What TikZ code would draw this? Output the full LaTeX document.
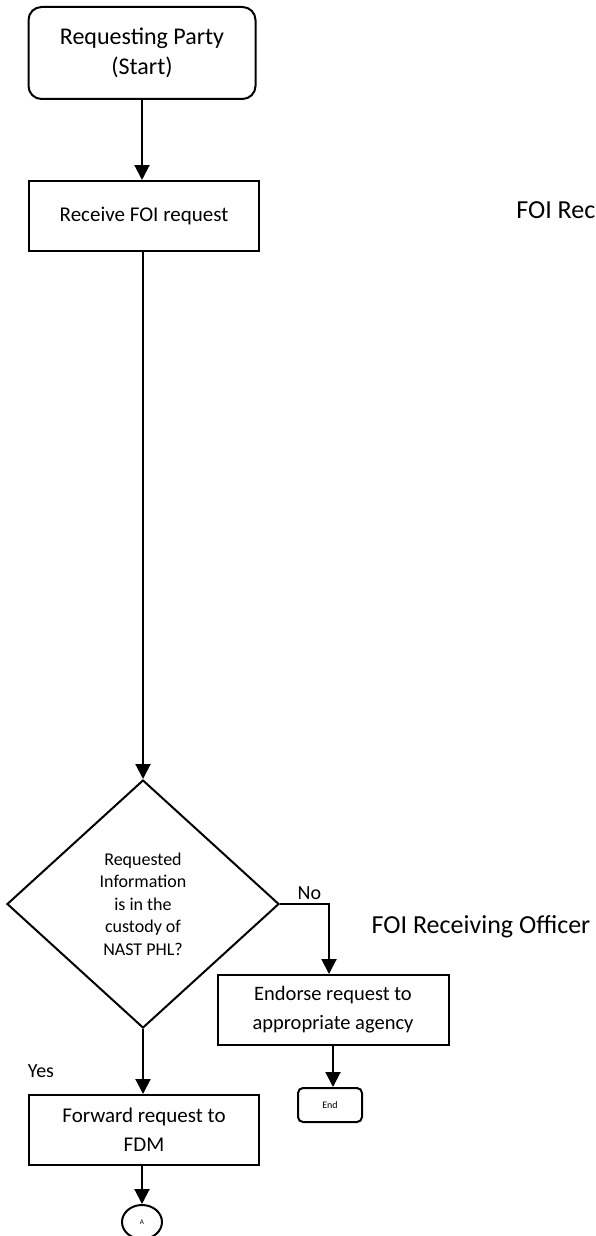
\documentclass[tikz,border=0pt]{standalone}
\usepackage{fontspec}
\setmainfont{Carlito}
\usetikzlibrary{shapes.geometric,arrows.meta}

\begin{document}
\begin{tikzpicture}[x=1pt,y=-1pt,
	line width=2pt,
	arr/.style={-{Triangle[width=15pt,length=15pt]}},
	startbox/.style={draw, rounded corners=13pt, minimum width=227pt, minimum height=92pt, align=center, font=\fontsize{24}{30}\selectfont},
	procbox/.style={draw, minimum width=230pt, minimum height=70pt, align=center, font=\fontsize{21}{29}\selectfont},
	decbox/.style={draw, diamond, inner sep=0pt, minimum width=272pt, minimum height=248pt, align=center, font=\fontsize{18}{22.5}\selectfont},
	endbox/.style={draw, rounded corners=5pt, minimum width=64pt, minimum height=34pt, font=\fontsize{10}{12}\selectfont},
	conn/.style={draw, ellipse, minimum width=40pt, minimum height=34pt, inner sep=0pt, font=\fontsize{7}{8}\selectfont},
	lbl/.style={font=\fontsize{20}{24}\selectfont},
	role/.style={font=\fontsize{26}{30}\selectfont}]
	\useasboundingbox (0,0) rectangle (596,1236);

	\node[startbox] (start) at (142,53) {Requesting Party\\(Start)};
	\node[procbox] (receive) at (144,216) {Receive FOI request};
	\node[decbox] (decide) at (143,904) {Requested\\Information\\is in the\\custody of\\NAST PHL?};
	\node[procbox, minimum width=231pt, font=\fontsize{20.5}{29}\selectfont] (endorse) at (333,1010) {Endorse request to\\appropriate agency};
	\node[endbox] (end) at (330,1105) {End};
	\node[procbox] (forward) at (144,1130) {Forward request to\\FDM};
	\node[conn] (conA) at (142,1222) {A};

	\node[lbl] (yes) at (41,1071) {Yes};
	\node[role, anchor=west] (role1) at (512,212) {FOI Receiving Officer};
	\node[role] (role2) at (481,927) {FOI Receiving Officer};
	\coordinate (nocorner) at (329,904);

	\path[arr] (start.south) edge (start.south |- receive.north);
	\path[arr] (receive.south -| decide.north) edge (decide.north);
	\draw[arr] (decide.east) -- node[lbl, above, pos=0.6] {No} (nocorner) -- (nocorner |- endorse.north);
	\path[arr] (decide.south) edge (decide.south |- forward.north);
	\path[arr] (endorse.south) edge (endorse.south |- end.north);
	\path[arr] (forward.south -| conA.north) edge (conA.north);
\end{tikzpicture}
\end{document}
